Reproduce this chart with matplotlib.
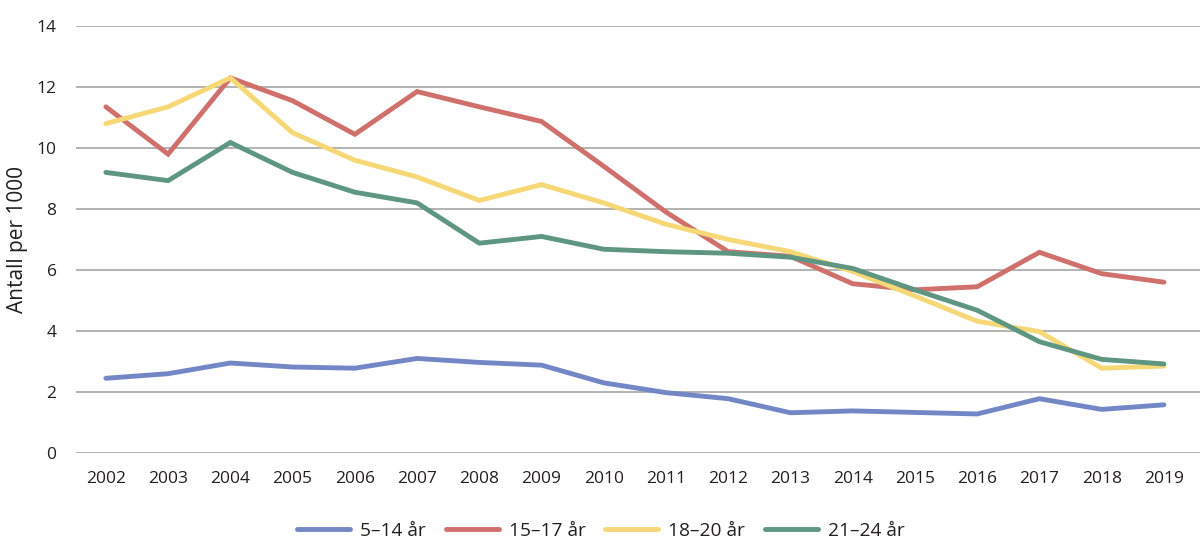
import matplotlib
matplotlib.use("Agg")
import matplotlib.pyplot as plt

years = list(range(2002, 2020))
s_5_14 = [2.45, 2.6, 2.95, 2.82, 2.78, 3.1, 2.97, 2.88, 2.3, 1.98, 1.78, 1.32, 1.38, 1.33, 1.28, 1.78, 1.43, 1.58]
s_15_17 = [11.35, 9.8, 12.3, 11.55, 10.45, 11.85, 11.35, 10.87, 9.4, 7.9, 6.6, 6.45, 5.55, 5.35, 5.45, 6.58, 5.88, 5.6]
s_18_20 = [10.8, 11.35, 12.3, 10.5, 9.6, 9.05, 8.28, 8.8, 8.2, 7.5, 7.0, 6.6, 5.95, 5.15, 4.32, 3.98, 2.78, 2.85]
s_21_24 = [9.2, 8.93, 10.18, 9.2, 8.55, 8.2, 6.88, 7.1, 6.68, 6.6, 6.55, 6.42, 6.05, 5.35, 4.68, 3.65, 3.07, 2.92]
labels = ["5–14 år", "15–17 år", "18–20 år", "21–24 år"]
colors = ["#7387c6", "#d0706c", "#f6d876", "#5e9681"]

plt.rcParams['font.family'] = ['Open Sans', 'DejaVu Sans']

fig = plt.figure(figsize=(12, 5.58), dpi=100)
ax = fig.add_axes([76/1200, (558-453)/558, 1 - 76/1200, (453-26)/558])

for s, lab, c in zip([s_5_14, s_15_17, s_18_20, s_21_24], labels, colors):
    ax.plot(years, s, color=c, lw=3.5, label=lab, solid_capstyle='round', solid_joinstyle='miter', zorder=3)

ax.set_ylim(0, 14)
ax.set_xlim(2001.52, 2019.58)
ax.set_yticks(range(0, 15, 2))
ax.set_xticks(years)
ax.set_xticklabels([str(y) for y in years])
ax.grid(axis='y', color='#a6a6a6', lw=1.2, zorder=0)
ax.set_axisbelow(True)
for sp in ax.spines.values():
    sp.set_visible(False)
ax.tick_params(axis='both', length=0, labelsize=12.5, colors='#231f20')
ax.tick_params(axis='y', pad=14)
ax.tick_params(axis='x', pad=13)
ax.set_ylabel("Antall per 1000", fontsize=15, color='#231f20', labelpad=6)

leg = fig.legend(loc='center', bbox_to_anchor=(601/1200, 1 - 531/558), ncol=4, frameon=False,
                 fontsize=13.8, handlelength=2.76, columnspacing=1.04, handletextpad=0.52)
for t in leg.get_texts():
    t.set_color('#231f20')

fig.savefig("out.png", dpi=100)
